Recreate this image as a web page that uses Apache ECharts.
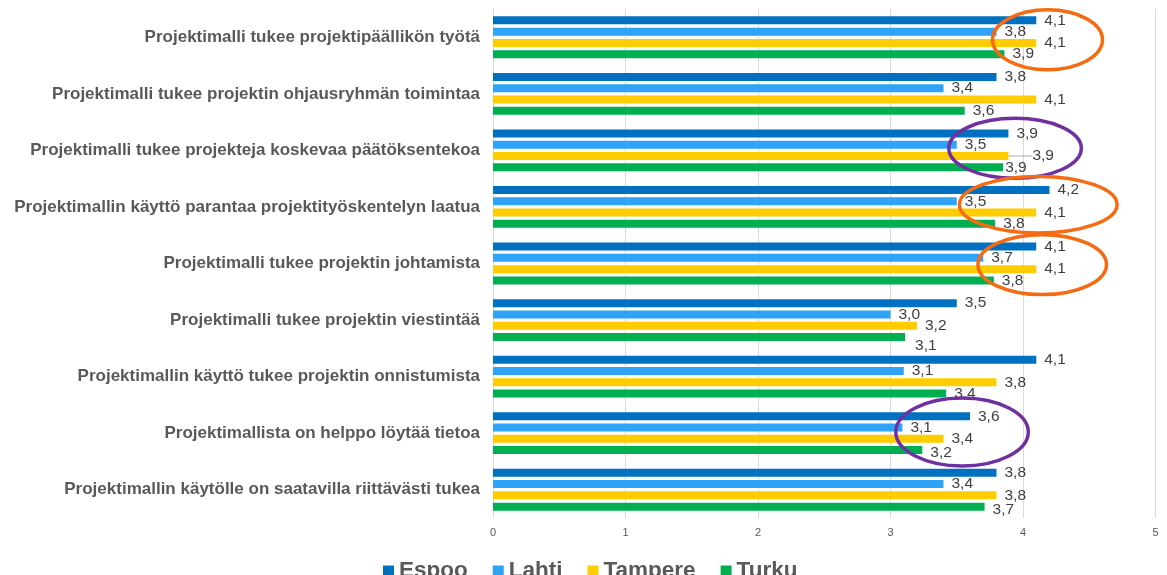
<!DOCTYPE html>
<html>
<head>
<meta charset="utf-8">
<script src="https://cdn.jsdelivr.net/npm/echarts@6/dist/echarts.min.js"></script>
<style>
  html, body { margin: 0; padding: 0; background: #ffffff; }
  #chart { width: 1167px; height: 575px; }
</style>
</head>
<body>
<div id="chart"></div>
<script>
// ---- data ----
const categories = [
  'Projektimalli tukee projektipäällikön työtä',
  'Projektimalli tukee projektin ohjausryhmän toimintaa',
  'Projektimalli tukee projekteja koskevaa päätöksentekoa',
  'Projektimallin käyttö parantaa projektityöskentelyn laatua',
  'Projektimalli tukee projektin johtamista',
  'Projektimalli tukee projektin viestintää',
  'Projektimallin käyttö tukee projektin onnistumista',
  'Projektimallista on helppo löytää tietoa',
  'Projektimallin käytölle on saatavilla riittävästi tukea'
];
const seriesNames = ['Espoo', 'Lahti', 'Tampere', 'Turku'];
const espoo   = [4.10, 3.80, 3.89, 4.20, 4.10, 3.50, 4.10, 3.60, 3.80];
const lahti   = [3.80, 3.40, 3.50, 3.50, 3.70, 3.00, 3.10, 3.09, 3.40];
const tampere = [4.10, 4.10, 3.89, 4.10, 4.10, 3.20, 3.80, 3.40, 3.80];
const turku   = [3.86, 3.56, 3.85, 3.79, 3.78, 3.11, 3.42, 3.24, 3.71];
const xTicks  = [0, 1, 2, 3, 4, 5];

// highlighted rows (annotation ellipses): row index, value range, colour key
const highlightRows   = [0, 2, 3, 4, 7];
const highlightFrom   = [3.77, 3.44, 3.52, 3.66, 3.04];
const highlightTo     = [4.60, 4.44, 4.71, 4.63, 4.04];
const highlightKind   = ['orange', 'purple', 'orange', 'orange', 'purple'];

// ---- styling / layout (not data) ----
const colors = ['#0070C0', '#2EA3F7', '#FFCC00', '#00B050'];
const ringColors = { orange: '#F66A12', purple: '#7030A0' };
const ringYShift = [0.045, -0.037, -0.04, 0.02, -0.02];   // fraction of band
const ringYRadius = [0.53, 0.53, 0.50, 0.53, 0.60];        // fraction of band
const FONT = '"Liberation Sans", Arial, sans-serif';

const allValues = [espoo, lahti, tampere, turku];

function labelTweaks(seriesIdx) {
  return function (params) {
    const i = params.dataIndex;
    if (seriesIdx === 2 && i === 2) return { dx: 16 };
    if (seriesIdx === 3 && i === 2) return { dx: -6 };
    if (seriesIdx === 3 && i === 5) return { dy: 9, dx: 2 };
    if (seriesIdx === 3 && (i === 7 || i === 8)) return { dy: 3 };
    return {};
  };
}

function buildData(s) {
  return allValues[s].map((v, i) => {
    const withGuide = (s === 2 && i === 2);
    return {
      value: v,
      labelLine: { show: withGuide, lineStyle: { color: '#A6A6A6', width: 1 } }
    };
  });
}

const chart = echarts.init(document.getElementById('chart'), null, { renderer: 'canvas' });

const option = {
  animation: false,
  backgroundColor: '#ffffff',
  textStyle: { fontFamily: FONT },
  color: colors,
  grid: { left: 493, right: 11.5, top: 9, bottom: 57, containLabel: false },
  legend: {
    data: seriesNames,
    left: 378,
    top: 554,
    itemWidth: 11,
    itemHeight: 11,
    itemGap: 25,
    icon: 'rect',
    textStyle: { fontFamily: FONT, fontSize: 22.5, fontWeight: 'bold', color: '#595959', lineHeight: 24 },
    selectedMode: false
  },
  xAxis: {
    type: 'value',
    min: xTicks[0],
    max: xTicks[xTicks.length - 1],
    interval: 1,
    axisLine: { show: false },
    axisTick: { show: false },
    splitLine: { show: true, lineStyle: { color: '#D9D9D9', width: 1 } },
    axisLabel: { fontFamily: FONT, fontSize: 11, color: '#595959', margin: 9 }
  },
  yAxis: {
    type: 'category',
    data: categories,
    inverse: true,
    axisLine: { show: true, lineStyle: { color: '#D9D9D9' } },
    axisTick: { show: false },
    axisLabel: { fontFamily: FONT, fontSize: 17, fontWeight: 'bold', color: '#595959', margin: 13 }
  },
  series: seriesNames.map((name, s) => ({
    name: name,
    type: 'bar',
    data: buildData(s),
    barWidth: 8,
    barGap: '41%',
    itemStyle: { color: colors[s] },
    label: {
      show: true,
      position: 'right',
      distance: 8,
      fontFamily: FONT,
      fontSize: 15.5,
      color: '#404040',
      formatter: p => p.value.toFixed(1).replace('.', ',')
    },
    labelLine: { show: false },
    labelLayout: labelTweaks(s)
  }))
};

chart.setOption(option);

// annotation ellipses positioned via the chart's own scales
const rowPix = categories.map(c => chart.convertToPixel({ gridIndex: 0 }, [0, c])[1]);
const band = rowPix[1] - rowPix[0];
const graphics = highlightRows.map((row, k) => {
  const x0 = chart.convertToPixel({ gridIndex: 0 }, [highlightFrom[k], categories[row]])[0];
  const x1 = chart.convertToPixel({ gridIndex: 0 }, [highlightTo[k], categories[row]])[0];
  return {
    type: 'ellipse',
    silent: true,
    z: 100,
    shape: {
      cx: (x0 + x1) / 2,
      cy: rowPix[row] + ringYShift[k] * band,
      rx: (x1 - x0) / 2,
      ry: ringYRadius[k] * band
    },
    style: { fill: 'none', stroke: ringColors[highlightKind[k]], lineWidth: 3.5 }
  };
});
chart.setOption({ graphic: graphics });
</script>
</body>
</html>
